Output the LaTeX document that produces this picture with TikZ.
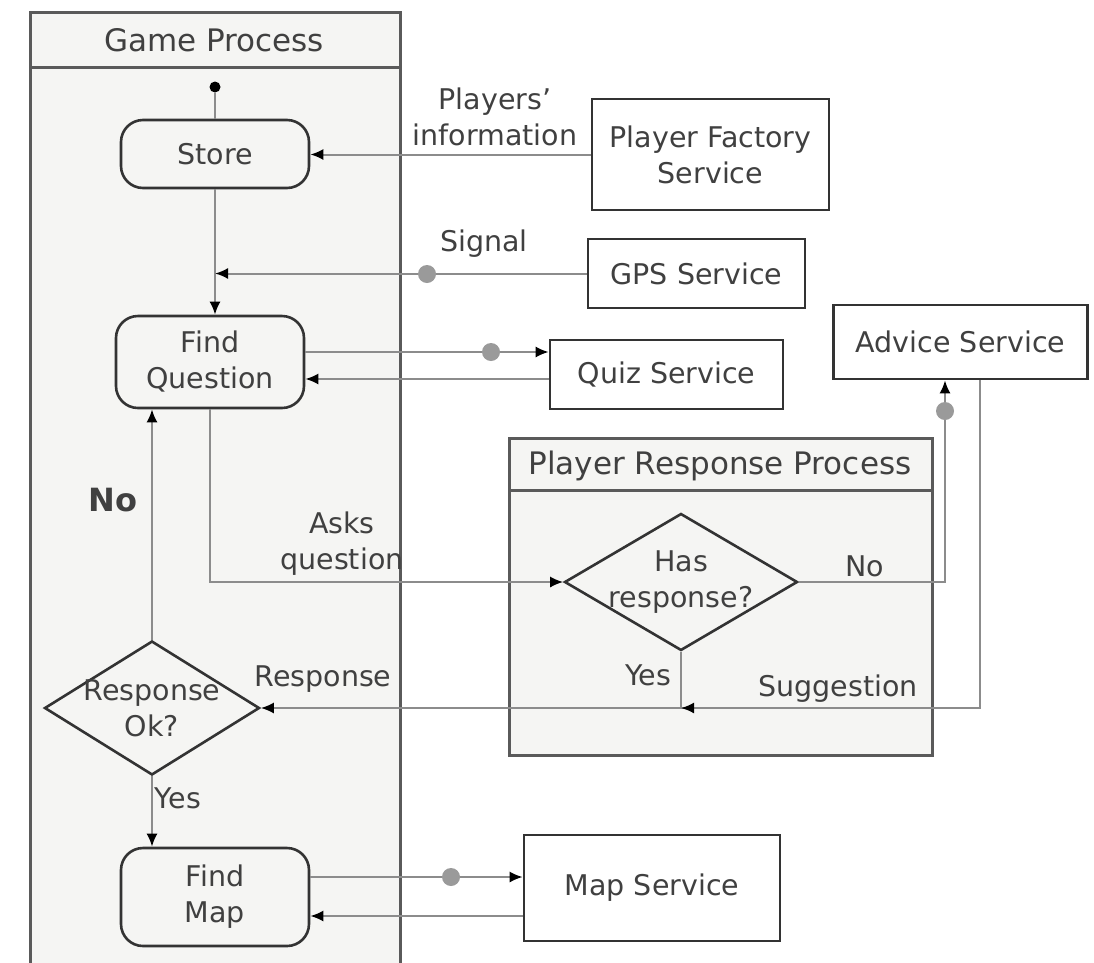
\documentclass[tikz,border=0pt]{standalone}
\usepackage{fontspec}
\setmainfont{DejaVu Sans}
\usetikzlibrary{shapes.geometric,arrows.meta}
\definecolor{lanefill}{HTML}{F5F5F3}
\definecolor{laneline}{HTML}{5A5A5A}
\definecolor{boxline}{HTML}{333333}
\definecolor{connline}{HTML}{8C8C8C}
\definecolor{txt}{HTML}{404040}
\definecolor{dotgray}{HTML}{9A9A9A}
\begin{document}
\begin{tikzpicture}[x=1pt,y=-1pt,
  every node/.style={font=\fontsize{28.5}{36}\selectfont, text=txt},
  lanebox/.style={draw=laneline, line width=3pt, fill=lanefill},
  actbox/.style={draw=boxline, line width=2.6pt, fill=lanefill, rounded corners=22pt, align=center, inner sep=0pt},
  svcbox/.style={draw=boxline, line width=2.6pt, fill=white, align=center, inner sep=0pt},
  decbox/.style={draw=boxline, line width=2.6pt, fill=lanefill, diamond, inner sep=0pt},
  conn/.style={draw=connline, line width=2pt},
  arr/.style={conn, -{Latex[length=13pt,width=11pt,color=black]}},
  dotc/.style={circle, fill=dotgray, inner sep=0pt, minimum size=18pt},
  lbl/.style={align=center, inner sep=0pt}
]
\useasboundingbox (0,0) rectangle (1094,962);
\clip (0,0) rectangle (1094,962);
% lanes
\draw[lanebox] (30,12) rectangle (400,990);
\draw[laneline, line width=3pt] (30,67) -- (400,67);
\node[lbl, font=\fontsize{31}{36}\selectfont] (gptitle) at (214,40) {Game Process};
\draw[lanebox] (509,438) rectangle (932,755);
\draw[laneline, line width=3pt] (509,490) -- (932,490);
\node[lbl, font=\fontsize{31}{36}\selectfont] (prptitle) at (720,466) {Player Response Process};

% nodes
\node[circle, fill=black, inner sep=0pt, minimum size=11pt] (start) at (215,87) {};
\node[actbox, minimum width=188pt, minimum height=68pt] (store) at (215,154) {Store};
\node[actbox, minimum width=188pt, minimum height=92pt] (findq) at (210,362) {Find\\Question};
\node[decbox, minimum width=215pt, minimum height=134pt,
  label={[lbl]center:Response\\Ok?}] (respok) at (152,708) {};
\node[actbox, minimum width=188pt, minimum height=98pt] (findmap) at (215,897) {Find\\Map};
\node[svcbox, minimum width=237pt, minimum height=111pt] (pfs) at (710.5,154.5) {Player Factory\\Service};
\node[svcbox, minimum width=217pt, minimum height=69pt] (gps) at (696.5,273.5) {GPS Service};
\node[svcbox, minimum width=233pt, minimum height=69pt] (quiz) at (666.5,374.5) {Quiz Service};
\node[svcbox, minimum width=254pt, minimum height=74pt] (advice) at (960.5,342) {Advice Service};
\node[decbox, minimum width=233pt, minimum height=137pt,
  label={[lbl]center:Has\\response?}] (hasr) at (681,582) {};
\node[svcbox, minimum width=256pt, minimum height=106pt] (map) at (652,888) {Map Service};

% helper coordinates
\coordinate (gjoin) at (store.south |- gps.west);
\coordinate (noup) at ([xshift=-15.5pt]advice.south);
\coordinate (sugdown) at ([xshift=19.5pt]advice.south);
\coordinate (yesjoin) at (hasr.south |- respok.east);

% connectors
\draw[conn] (start) -- (store.north);
\draw[arr] (pfs.west) -- (pfs.west -| store.east);
\draw[arr] (store.south) -- (store.south |- findq.north);
\draw[arr] (gps.west) -- (gjoin);
\draw[arr] ([yshift=10pt]findq.east) -- ([yshift=10pt]findq.east -| quiz.west);
\draw[arr] ([yshift=-17pt]findq.east -| quiz.west) -- ([yshift=-17pt]findq.east);
\draw[arr] (findq.south) |- (hasr.west);
\draw[arr] (hasr.east) -| (noup);
\draw[arr] (sugdown) |- (respok.east);
\draw[conn] (hasr.south) -- (yesjoin);
\draw[arr] ([xshift=14pt]yesjoin) -- (yesjoin);
\draw[arr] (respok.north) -- (respok.north |- findq.south);
\draw[arr] (respok.south) -- (respok.south |- findmap.north);
\draw[arr] ([yshift=20pt]findmap.east) -- ([yshift=20pt]findmap.east -| map.west);
\draw[arr] ([yshift=-19pt]findmap.east -| map.west) -- ([yshift=-19pt]findmap.east);

% connector dots
\node[dotc] (d1) at (427,274) {};
\node[dotc] (d2) at (491,352) {};
\node[dotc] (d3) at (945,411) {};
\node[dotc] (d4) at (451,877) {};

% labels
\node[lbl] (lpi) at (495,117) {Players'\\information};
\node[lbl] (lsig) at (484,244) {Signal};
\node[lbl] (lask) at (342,544) {Asks\\question};
\node[lbl] (lno1) at (865,566) {No};
\node[lbl] (lyes1) at (648,675) {Yes};
\node[lbl] (lsug) at (838,689) {Suggestion};
\node[lbl] (lresp) at (323,679) {Response};
\node[lbl, font=\fontsize{32}{36}\bfseries\selectfont] (lno2) at (113,500) {No};
\node[lbl] (lyes2) at (178,798) {Yes};
\end{tikzpicture}
\end{document}
